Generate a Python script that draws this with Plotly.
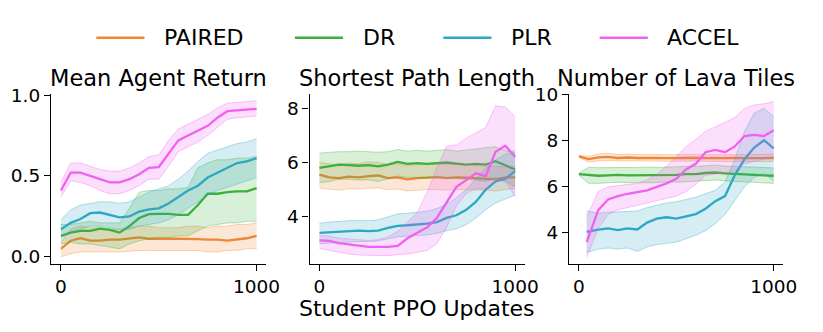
import plotly.graph_objects as go

################
# Data
################

# x grid (student PPO updates)
X = [0, 50, 100, 150, 200, 250, 300, 350, 400, 450, 500,
     550, 600, 650, 700, 750, 800, 850, 900, 950, 1000]
X_LATE = [40, 100, 150, 200, 250, 300, 350, 400, 450, 500,
          550, 600, 650, 700, 750, 800, 850, 900, 950, 1000]

METHODS = ["PAIRED", "DR", "PLR", "ACCEL"]
TITLES = ["Mean Agent Return", "Shortest Path Length", "Number of Lava Tiles"]
X_LABEL = "Student PPO Updates"

# Mean Agent Return
RET_PAIRED_MEAN = [0.05, 0.10, 0.115, 0.10, 0.10, 0.107, 0.107, 0.115, 0.12, 0.112, 0.11,
                   0.112, 0.112, 0.112, 0.11, 0.106, 0.106, 0.10, 0.106, 0.115, 0.13]
RET_PAIRED_LO = [0.00, 0.02, 0.03, 0.03, 0.03, 0.03, 0.03, 0.035, 0.04, 0.04, 0.04,
                 0.04, 0.04, 0.04, 0.04, 0.03, 0.03, 0.04, 0.04, 0.05, 0.05]
RET_PAIRED_HI = [0.09, 0.17, 0.19, 0.18, 0.18, 0.17, 0.17, 0.18, 0.19, 0.19, 0.18,
                 0.18, 0.18, 0.19, 0.19, 0.18, 0.19, 0.19, 0.20, 0.20, 0.21]
RET_DR_MEAN = [0.13, 0.15, 0.16, 0.16, 0.175, 0.167, 0.15, 0.19, 0.24, 0.264, 0.266,
               0.266, 0.26, 0.26, 0.32, 0.39, 0.39, 0.40, 0.405, 0.405, 0.425]
RET_DR_LO = [0.08, 0.09, 0.08, 0.08, 0.07, 0.06, 0.05, 0.08, 0.10, 0.11, 0.12,
             0.12, 0.13, 0.13, 0.16, 0.19, 0.20, 0.21, 0.21, 0.22, 0.22]
RET_DR_HI = [0.20, 0.20, 0.21, 0.22, 0.21, 0.21, 0.21, 0.30, 0.40, 0.41, 0.41,
             0.42, 0.42, 0.43, 0.55, 0.58, 0.60, 0.60, 0.61, 0.61, 0.62]
RET_PLR_MEAN = [0.17, 0.21, 0.234, 0.27, 0.274, 0.26, 0.244, 0.25, 0.28, 0.294, 0.30,
                0.33, 0.37, 0.41, 0.44, 0.49, 0.52, 0.55, 0.58, 0.59, 0.61]
RET_PLR_LO = [0.12, 0.15, 0.17, 0.19, 0.19, 0.18, 0.17, 0.17, 0.19, 0.20, 0.21,
              0.23, 0.26, 0.30, 0.34, 0.38, 0.41, 0.43, 0.45, 0.47, 0.49]
RET_PLR_HI = [0.23, 0.29, 0.32, 0.33, 0.34, 0.34, 0.33, 0.34, 0.37, 0.40, 0.42,
              0.44, 0.48, 0.53, 0.59, 0.64, 0.66, 0.68, 0.70, 0.71, 0.73]
RET_ACCEL_MEAN = [0.41, 0.52, 0.52, 0.50, 0.48, 0.46, 0.46, 0.48, 0.51, 0.55, 0.555,
                  0.64, 0.72, 0.75, 0.78, 0.81, 0.86, 0.90, 0.905, 0.91, 0.915]
RET_ACCEL_LO = [0.37, 0.47, 0.46, 0.44, 0.41, 0.39, 0.39, 0.41, 0.44, 0.48, 0.48,
                0.56, 0.65, 0.68, 0.71, 0.75, 0.80, 0.85, 0.86, 0.865, 0.87]
RET_ACCEL_HI = [0.46, 0.58, 0.58, 0.56, 0.54, 0.53, 0.53, 0.55, 0.58, 0.62, 0.63,
                0.72, 0.79, 0.82, 0.85, 0.88, 0.92, 0.95, 0.955, 0.96, 0.965]

# Shortest Path Length
SPL_PAIRED_MEAN = [5.55, 5.45, 5.42, 5.48, 5.45, 5.50, 5.52, 5.42, 5.45, 5.38, 5.42,
                   5.45, 5.46, 5.42, 5.45, 5.44, 5.42, 5.40, 5.38, 5.45, 5.45]
SPL_PAIRED_LO = [5.05, 5.02, 4.98, 5.03, 5.02, 5.05, 5.06, 5.00, 5.02, 4.95, 4.98,
                 5.00, 5.00, 4.98, 5.00, 5.00, 4.98, 4.98, 4.95, 5.00, 5.05]
SPL_PAIRED_HI = [6.00, 5.95, 5.93, 5.98, 5.95, 6.02, 6.00, 5.92, 5.95, 5.88, 5.92,
                 5.95, 5.95, 5.92, 5.95, 5.92, 5.90, 5.88, 5.85, 5.85, 5.85]
SPL_DR_MEAN = [5.80, 5.85, 5.92, 5.90, 5.88, 5.90, 5.86, 5.92, 6.02, 5.95, 5.98,
               5.95, 5.97, 6.00, 5.96, 5.92, 5.95, 5.92, 6.05, 5.90, 5.74]
SPL_DR_LO = [5.25, 5.30, 5.38, 5.38, 5.35, 5.36, 5.30, 5.40, 5.50, 5.45, 5.45,
             5.42, 5.45, 5.45, 5.42, 5.38, 5.35, 5.30, 5.45, 5.30, 5.10]
SPL_DR_HI = [6.35, 6.38, 6.40, 6.40, 6.42, 6.40, 6.38, 6.40, 6.48, 6.42, 6.45,
             6.42, 6.45, 6.48, 6.42, 6.45, 6.50, 6.55, 6.58, 6.45, 6.35]
SPL_PLR_MEAN = [3.40, 3.42, 3.42, 3.45, 3.48, 3.46, 3.48, 3.58, 3.66, 3.68, 3.70,
                3.74, 3.80, 3.95, 4.05, 4.25, 4.55, 5.00, 5.30, 5.40, 5.68]
SPL_PLR_LO = [3.00, 3.02, 3.05, 3.05, 3.08, 3.08, 3.10, 3.18, 3.25, 3.28, 3.30,
              3.32, 3.38, 3.48, 3.55, 3.70, 3.95, 4.25, 4.50, 4.65, 4.80]
SPL_PLR_HI = [3.75, 3.80, 3.82, 3.85, 3.85, 3.85, 3.88, 4.00, 4.10, 4.12, 4.15,
              4.20, 4.30, 4.45, 4.70, 5.00, 5.40, 5.80, 6.10, 6.30, 6.45]
SPL_ACCEL_MEAN = [3.12, 3.10, 3.02, 2.98, 2.92, 2.88, 2.88, 2.88, 2.92, 3.20, 3.40,
                  3.60, 3.95, 4.50, 5.10, 5.35, 5.60, 5.50, 6.40, 6.62, 6.20]
SPL_ACCEL_LO = [2.82, 2.75, 2.68, 2.62, 2.58, 2.56, 2.56, 2.56, 2.58, 2.62, 2.68,
                2.75, 3.00, 3.60, 4.40, 4.85, 5.05, 5.00, 5.35, 5.30, 4.75]
SPL_ACCEL_HI = [3.30, 3.28, 3.20, 3.18, 3.15, 3.12, 3.15, 3.25, 3.45, 3.80, 4.15,
                4.90, 5.80, 6.60, 6.65, 6.90, 7.10, 7.30, 8.10, 8.05, 7.70]

# Number of Lava Tiles
LAVA_PAIRED_MEAN = [7.32, 7.20, 7.28, 7.30, 7.25, 7.27, 7.25, 7.26, 7.25, 7.24, 7.25,
                    7.25, 7.26, 7.24, 7.25, 7.23, 7.25, 7.24, 7.25, 7.25, 7.25]
LAVA_PAIRED_LO = [7.28, 7.08, 7.12, 7.14, 7.12, 7.13, 7.12, 7.12, 7.11, 7.10, 7.11,
                  7.11, 7.12, 7.10, 7.11, 7.09, 7.10, 7.10, 7.10, 7.10, 7.10]
LAVA_PAIRED_HI = [7.36, 7.32, 7.42, 7.45, 7.40, 7.42, 7.40, 7.41, 7.40, 7.39, 7.40,
                  7.40, 7.41, 7.39, 7.40, 7.38, 7.40, 7.39, 7.40, 7.41, 7.42]
LAVA_DR_MEAN = [6.55, 6.50, 6.48, 6.50, 6.52, 6.50, 6.50, 6.52, 6.50, 6.53, 6.52,
                6.55, 6.55, 6.60, 6.62, 6.58, 6.55, 6.55, 6.52, 6.50, 6.48]
LAVA_DR_LO = [6.50, 6.15, 6.15, 6.18, 6.20, 6.18, 6.18, 6.20, 6.18, 6.22, 6.20,
              6.22, 6.24, 6.28, 6.30, 6.26, 6.24, 6.22, 6.20, 6.18, 6.15]
LAVA_DR_HI = [6.60, 6.85, 6.83, 6.84, 6.86, 6.84, 6.83, 6.86, 6.84, 6.86, 6.85,
              6.88, 6.88, 6.92, 6.95, 6.90, 6.88, 6.88, 6.86, 6.84, 6.82]
LAVA_PLR_MEAN = [4.05, 4.15, 4.20, 4.12, 4.20, 4.15, 4.45, 4.62, 4.68, 4.62,
                 4.72, 4.82, 5.05, 5.38, 5.60, 6.50, 7.20, 7.70, 8.02, 7.67]
LAVA_PLR_LO = [3.15, 3.30, 3.35, 3.30, 3.35, 3.20, 3.40, 3.50, 3.55, 3.60,
               3.75, 3.90, 4.10, 4.40, 4.80, 5.40, 6.00, 6.40, 6.60, 6.25]
LAVA_PLR_HI = [4.95, 4.85, 4.90, 4.92, 4.95, 4.95, 5.10, 5.20, 5.30, 5.35,
               5.45, 5.55, 5.70, 5.85, 6.20, 7.20, 8.40, 9.20, 9.40, 9.05]
LAVA_ACCEL_MEAN = [3.60, 5.00, 5.45, 5.60, 5.70, 5.78, 5.85, 6.00, 6.15, 6.35,
                   6.75, 7.00, 7.50, 7.60, 7.50, 7.75, 8.20, 8.25, 8.20, 8.45]
LAVA_ACCEL_LO = [2.95, 4.20, 4.80, 5.00, 5.10, 5.20, 5.30, 5.40, 5.50, 5.60,
                 5.80, 6.10, 6.50, 6.55, 6.60, 6.70, 7.00, 7.10, 7.20, 7.30]
LAVA_ACCEL_HI = [4.70, 5.80, 6.00, 6.05, 6.10, 6.15, 6.30, 6.55, 6.90, 7.30,
                 7.75, 8.05, 8.40, 8.60, 8.80, 9.00, 9.40, 9.55, 9.60, 9.70]

COLORS = {
    "PAIRED": (238, 134, 52),
    "DR": (60, 176, 58),
    "PLR": (46, 166, 196),
    "ACCEL": (241, 96, 240),
}

FONT = "DejaVu Sans"


def rgba(rgb, a):
    return "rgba({},{},{},{})".format(rgb[0], rgb[1], rgb[2], a)


def add_series(fig, idx, x, mean, lo, hi, rgb):
    xa = "x" if idx == 1 else f"x{idx}"
    ya = "y" if idx == 1 else f"y{idx}"
    edge = dict(color=rgba(rgb, 0.35), width=1)
    fig.add_trace(go.Scatter(x=x, y=lo, mode="lines", line=edge, xaxis=xa, yaxis=ya,
                             showlegend=False, hoverinfo="skip"))
    fig.add_trace(go.Scatter(x=x, y=hi, mode="lines", line=edge, xaxis=xa, yaxis=ya,
                             fill="tonexty", fillcolor=rgba(rgb, 0.2),
                             showlegend=False, hoverinfo="skip"))
    fig.add_trace(go.Scatter(x=x, y=mean, mode="lines", xaxis=xa, yaxis=ya,
                             line=dict(color=rgba(rgb, 1), width=2.3), showlegend=False))


def main():
    fig = go.Figure()

    panels = [
        (1, [(X, RET_PAIRED_MEAN, RET_PAIRED_LO, RET_PAIRED_HI),
             (X, RET_DR_MEAN, RET_DR_LO, RET_DR_HI),
             (X, RET_PLR_MEAN, RET_PLR_LO, RET_PLR_HI),
             (X, RET_ACCEL_MEAN, RET_ACCEL_LO, RET_ACCEL_HI)]),
        (2, [(X, SPL_PAIRED_MEAN, SPL_PAIRED_LO, SPL_PAIRED_HI),
             (X, SPL_DR_MEAN, SPL_DR_LO, SPL_DR_HI),
             (X, SPL_PLR_MEAN, SPL_PLR_LO, SPL_PLR_HI),
             (X, SPL_ACCEL_MEAN, SPL_ACCEL_LO, SPL_ACCEL_HI)]),
        (3, [(X, LAVA_PAIRED_MEAN, LAVA_PAIRED_LO, LAVA_PAIRED_HI),
             (X, LAVA_DR_MEAN, LAVA_DR_LO, LAVA_DR_HI),
             (X_LATE, LAVA_PLR_MEAN, LAVA_PLR_LO, LAVA_PLR_HI),
             (X_LATE, LAVA_ACCEL_MEAN, LAVA_ACCEL_LO, LAVA_ACCEL_HI)]),
    ]
    for idx, series in panels:
        for method, (x, mean, lo, hi) in zip(METHODS, series):
            add_series(fig, idx, x, mean, lo, hi, COLORS[method])

    # axes
    W, H = 823, 332
    x_domains = [(52, 271), (315, 534), (579, 797)]
    y_dom = [(H - 264) / H, (H - 87.5) / H]
    y_ranges = [[-0.042, 1.006], [2.26, 8.53], [2.67, 10.02]]
    y_ticks = [([0, 0.5, 1.0], ["0.0", "0.5", "1.0"]),
               ([4, 6, 8], ["4", "6", "8"]),
               ([4, 6, 8, 10], ["4", "6", "8", "10"])]
    axis_common = dict(showline=True, linecolor="black", linewidth=1.3, ticks="outside",
                       ticklen=6, tickwidth=1.3, tickcolor="black", showgrid=False,
                       zeroline=False, tickfont=dict(family=FONT, size=18.5, color="black"))
    for i in range(3):
        sfx = "" if i == 0 else str(i + 1)
        fig.layout[f"xaxis{sfx}"] = dict(
            domain=[x_domains[i][0] / W, x_domains[i][1] / W], anchor=f"y{sfx}",
            range=[-50, 1050], tickvals=[0, 1000], ticktext=["0", "1000"], **axis_common)
        fig.layout[f"yaxis{sfx}"] = dict(
            domain=y_dom, anchor=f"x{sfx}", range=y_ranges[i],
            tickvals=y_ticks[i][0], ticktext=y_ticks[i][1], **axis_common)
        fig.add_annotation(text=TITLES[i], xref="paper", yref="paper",
                           x=(x_domains[i][0] + x_domains[i][1]) / 2 / W, y=(H - 71) / H,
                           xanchor="center", yanchor="middle", showarrow=False,
                           font=dict(family=FONT, size=22.5, color="black"))

    fig.add_annotation(text=X_LABEL, xref="paper", yref="paper", x=424.5 / W, y=(H - 311) / H,
                       xanchor="center", yanchor="middle", showarrow=False,
                       font=dict(family=FONT, size=22, color="black"))

    # legend drawn by hand to match the long line keys
    key_x = [98, 300, 451, 610]
    for method, kx in zip(METHODS, key_x):
        fig.add_shape(type="line", xref="paper", yref="paper",
                      x0=kx / W, x1=(kx + 49) / W, y0=(H - 29) / H, y1=(H - 29) / H,
                      line=dict(color=rgba(COLORS[method], 1), width=2.5))
        fig.add_annotation(text=method, xref="paper", yref="paper",
                           x=(kx + 67) / W, y=(H - 29) / H, xanchor="left", yanchor="middle",
                           showarrow=False, font=dict(family=FONT, size=22, color="black"))

    fig.update_layout(width=W, height=H, margin=dict(l=0, r=0, t=0, b=0),
                      plot_bgcolor="white", paper_bgcolor="white", showlegend=False)
    # page margin off so the figure sits at the window's top-left corner
    fig.write_html("out.html", config={"displayModeBar": False},
                   post_script="document.body.style.margin='0';"
                               "document.body.style.overflow='hidden';")


if __name__ == "__main__":
    main()
